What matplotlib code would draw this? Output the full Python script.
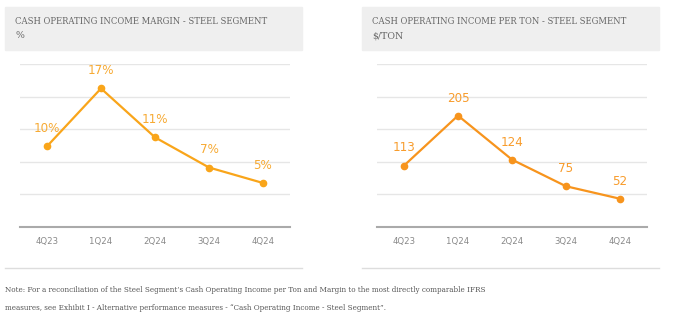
import matplotlib.pyplot as plt
from matplotlib.patches import Rectangle
from matplotlib.lines import Line2D

quarters = ["4Q23", "1Q24", "2Q24", "3Q24", "4Q24"]
margin_pct = [9.9, 17.0, 11.0, 7.3, 5.4]
income_per_ton = [113, 205, 124, 75, 52]

left_title = "CASH OPERATING INCOME MARGIN - STEEL SEGMENT"
left_unit = "%"
right_title = "CASH OPERATING INCOME PER TON - STEEL SEGMENT"
right_unit = "$/TON"
note_lines = [
    "Note: For a reconciliation of the Steel Segment\u2019s Cash Operating Income per Ton and Margin to the most directly comparable IFRS",
    "measures, see Exhibit I - Alternative performance measures - \u201cCash Operating Income - Steel Segment\u201d.",
]

W, H = 678, 324
fig = plt.figure(figsize=(W / 100, H / 100), dpi=100)

def fx(px):
    return px / W

def fy(py):
    return 1 - py / H

COND = dict(family="DejaVu Sans", fontstretch="condensed")

def panel(x0, values, ymax, step, line_color, label_color, fmt, title, unit):
    # header box
    fig.patches.append(Rectangle((fx(x0), fy(50)), fx(297), 43 / H,
                                 transform=fig.transFigure, color="#efefef", zorder=0))
    fig.text(fx(x0 + 10), fy(21), title, family="DejaVu Serif", fontstretch="condensed",
             fontsize=6.75, color="#666666", va="center")
    fig.text(fx(x0 + 10), fy(36), unit, family="DejaVu Serif", fontsize=6.75,
             color="#666666", va="center")
    # separator
    fig.lines.append(Line2D([fx(x0), fx(x0 + 297)], [fy(268), fy(268)],
                            transform=fig.transFigure, color="#dddddd", lw=1))
    ax = fig.add_axes([fx(x0 + 15), fy(227), fx(270), 163 / H])
    x = range(len(values))
    ax.plot(x, values, color=line_color, lw=1.6, marker="o", ms=4.5, zorder=3)
    for i, v in enumerate(values):
        ax.annotate(fmt(v), (i, v), xytext=(0, 8), textcoords="offset points",
                    ha="center", va="bottom", color=label_color, fontsize=9.5,
                    fontweight="light", **COND)
    ax.set_xlim(-0.5, len(values) - 0.5)
    ax.set_ylim(0, ymax)
    ax.set_yticks([step * k for k in range(1, int(ymax / step) + 1)])
    ax.yaxis.grid(True, color="#e6e6e6", lw=1)
    ax.set_yticklabels([])
    ax.tick_params(axis="y", length=0)
    ax.set_xticks(list(x))
    ax.set_xticklabels(quarters, color="#888888", fontsize=6.8, **COND)
    ax.tick_params(axis="x", length=0, pad=7)
    for s in ["top", "left", "right"]:
        ax.spines[s].set_visible(False)
    ax.spines["bottom"].set_color("#aaaaaa")
    ax.spines["bottom"].set_linewidth(1.5)
    ax.set_axisbelow(True)
    ax.patch.set_alpha(0)
    return ax

panel(5, margin_pct, 20, 4, "#f9a51a", "#f7aa33", lambda v: f"{v:.0f}%", left_title, left_unit)
panel(362, income_per_ton, 300, 60, "#f7941d", "#f89c2c", lambda v: f"{v:.0f}", right_title, right_unit)

for k, line in enumerate(note_lines):
    fig.text(fx(5), fy(290 + 18 * k), line, family="DejaVu Serif", fontstretch="condensed",
             fontsize=5.75, color="#555555", va="center")

fig.savefig("out.png", dpi=100)
